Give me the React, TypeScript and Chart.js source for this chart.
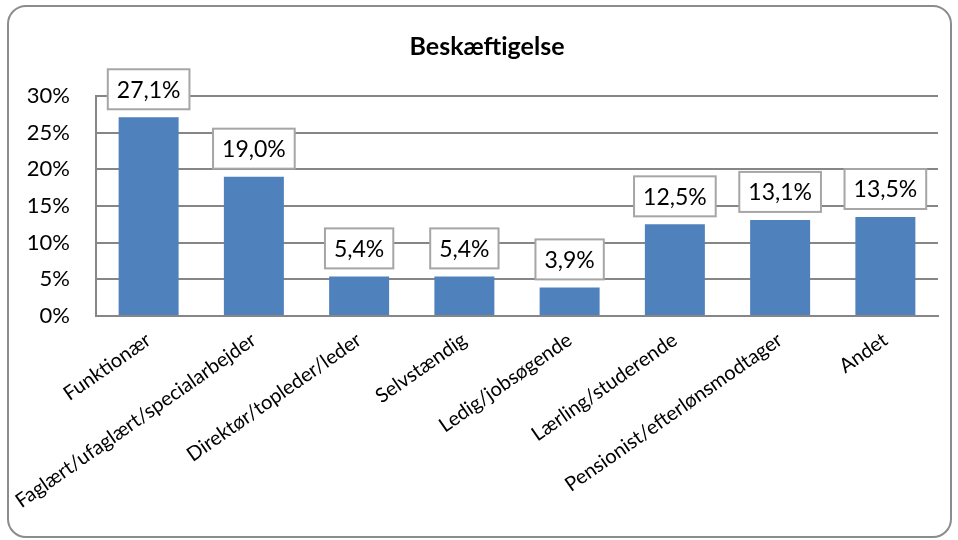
import React, { useEffect, useRef } from "react";
import { Chart, registerables } from "chart.js";

Chart.register(...registerables);

const categories = [
  "Funktionær",
  "Faglært/ufaglært/specialarbejder",
  "Direktør/topleder/leder",
  "Selvstændig",
  "Ledig/jobsøgende",
  "Lærling/studerende",
  "Pensionist/efterlønsmodtager",
  "Andet",
];
const values = [27.1, 19.0, 5.4, 5.4, 3.9, 12.5, 13.1, 13.5];
const titleText = "Beskæftigelse";
const yMin = 0;
const yMax = 30;
const yStep = 5;

const FONT = "Lato, 'Liberation Sans', sans-serif";

const framePlugin = {
  id: "frame",
  beforeDraw(chart: any) {
    const ctx = chart.ctx;
    ctx.save();
    ctx.fillStyle = "#ffffff";
    ctx.fillRect(0, 0, chart.width, chart.height);
    ctx.beginPath();
    ctx.roundRect(8, 6, 943, 531, 18);
    ctx.lineWidth = 2;
    ctx.strokeStyle = "#8c8c8c";
    ctx.stroke();
    ctx.fillStyle = "#000";
    ctx.font = `bold 25px ${FONT}`;
    ctx.textAlign = "center";
    ctx.textBaseline = "middle";
    ctx.fillText(titleText, 487, 47);
    ctx.restore();
  },
};

const labelPlugin = {
  id: "boxLabels",
  afterDatasetsDraw(chart: any) {
    const ctx = chart.ctx;
    const meta = chart.getDatasetMeta(0);
    ctx.save();
    ctx.font = `23px ${FONT}`;
    ctx.textAlign = "center";
    ctx.textBaseline = "middle";
    meta.data.forEach((bar: any, i: number) => {
      const txt = values[i].toFixed(1).replace(".", ",") + "%";
      const w = ctx.measureText(txt).width + 18;
      const h = 40;
      const x = bar.x - w / 2;
      const y = bar.y - 8 - h;
      ctx.fillStyle = "#ffffff";
      ctx.fillRect(x, y, w, h);
      ctx.lineWidth = 2;
      ctx.strokeStyle = "#a6a6a6";
      ctx.strokeRect(x, y, w, h);
      ctx.fillStyle = "#000";
      ctx.fillText(txt, bar.x, y + h / 2 + 1);
    });
    ctx.restore();
  },
};

export default function App() {
  const ref = useRef<HTMLCanvasElement>(null);
  useEffect(() => {
    document.body.style.margin = "0";
    const chart = new Chart(ref.current!, {
      type: "bar",
      data: {
        labels: categories,
        datasets: [
          {
            data: values,
            backgroundColor: "#4f81bd",
            barPercentage: 0.57,
            categoryPercentage: 1,
          },
        ],
      },
      options: {
        animation: false,
        responsive: false,
        devicePixelRatio: 1,
        layout: { padding: { left: 10, right: 20, top: 96, bottom: 0 } },
        plugins: {
          legend: { display: false },
          title: { display: false },
          tooltip: { enabled: false },
        },
        scales: {
          x: {
            grid: { display: false, drawTicks: false },
            border: { color: "#868686", width: 2 },
            ticks: {
              color: "#000",
              font: { family: FONT, size: 20 },
              minRotation: 35,
              maxRotation: 35,
              autoSkip: false,
              padding: 12,
            },
            afterFit(scale: any) {
              scale.height = 540 - 316;
            },
          },
          y: {
            min: yMin,
            max: yMax,
            grid: { color: "#868686", lineWidth: 2, drawTicks: false },
            border: { color: "#868686", width: 2 },
            ticks: {
              stepSize: yStep,
              color: "#000",
              font: { family: FONT, size: 22 },
              padding: 26,
              callback: (v: any) => v + "%",
            },
            afterFit(scale: any) {
              scale.width = 86;
            },
          },
        },
      },
      plugins: [framePlugin, labelPlugin],
    });
    return () => chart.destroy();
  }, []);
  return <canvas ref={ref} width={958} height={540} style={{ display: "block" }} />;
}
